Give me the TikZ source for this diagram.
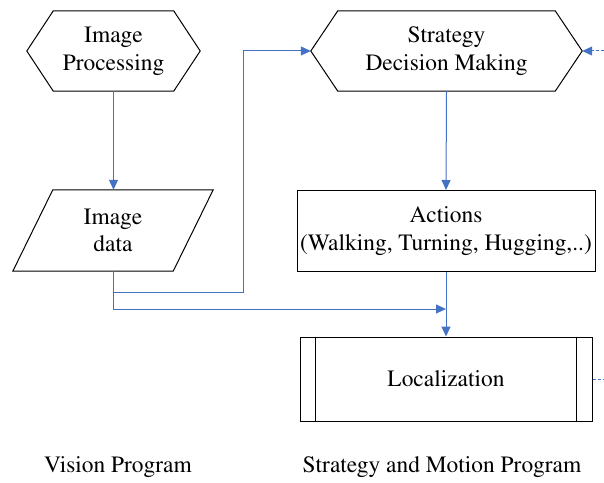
\documentclass[tikz,border=0pt]{standalone}
\usepackage[T1]{fontenc}
\usepackage{mathptmx}
\usetikzlibrary{arrows.meta,calc}

\definecolor{flowblue}{HTML}{4472C4}

\tikzset{
  x=1bp, y=-1bp,
  every node/.style={font=\rmfamily\fontsize{23.5}{28}\selectfont, align=center, inner sep=0pt},
  box/.style={draw=black, line width=1bp, minimum width=#1},
  frame/.style={draw=none, minimum width=#1},
  outline/.style={draw=black, line width=1bp, line join=miter},
  flow/.style={draw=flowblue, line width=1bp, -{Triangle[length=10bp,width=9bp]}},
  dashflow/.style={draw=flowblue, line width=1bp, dash pattern=on 3bp off 2bp},
  caption/.style={font=\rmfamily\fontsize{23.5}{28}\selectfont}
}

\begin{document}
\begin{tikzpicture}
\useasboundingbox (0,0) rectangle (604,483);

% hexagon: image processing
\node[frame=173bp, minimum height=80bp] (ip) at (113.5,51) {Image\\Processing};
\draw[outline] (ip.west) -- ([xshift=26.5bp]ip.north west) -- ([xshift=-26.5bp]ip.north east)
  -- (ip.east) -- ([xshift=-26.5bp]ip.south east) -- ([xshift=26.5bp]ip.south west) -- cycle;

% hexagon: strategy decision making
\node[frame=271bp, minimum height=80bp] (sd) at (446.5,51) {Strategy\\Decision Making};
\draw[outline] (sd.west) -- ([xshift=27bp]sd.north west) -- ([xshift=-27bp]sd.north east)
  -- (sd.east) -- ([xshift=-27bp]sd.south east) -- ([xshift=27bp]sd.south west) -- cycle;

% parallelogram: image data
\node[frame=200bp, minimum height=81bp] (data) at (113,230.5) {Image\\data};
\draw[outline] ([xshift=40bp]data.north west) -- (data.north east)
  -- ([xshift=-40bp]data.south east) -- (data.south west) -- cycle;

% process box: actions
\node[box=298bp, minimum height=81bp] (act) at (446,231) {Actions\\(Walking, Turning, Hugging,..)};

% predefined process: localization
\node[box=292bp, minimum height=84bp] (loc) at (446,379) {Localization};
\draw[outline] ([xshift=16bp]loc.north west) -- ([xshift=16bp]loc.south west);
\draw[outline] ([xshift=-16bp]loc.north east) -- ([xshift=-16bp]loc.south east);

% routing points
\coordinate (port) at (ip.south |- data.south);
\coordinate (bend) at (243,292);
\coordinate (join) at (446,309);
\coordinate (extin) at (604,51);
\coordinate (extout) at (604,379);

% connectors
\draw[flow] (ip.south) -- (ip.south |- data.north);
\draw[flow] (port) |- (bend) |- (sd.west);
\draw[flow] (port) |- (join);
\draw[flow] (sd.south) -- (act.north);
\draw[flow] (act.south) -- (loc.north);
\draw[dashflow, -{Triangle[length=10bp,width=9bp]}] (extin) -- (sd.east);
\draw[dashflow] (loc.east) -- (extout);

% captions
\node[caption] (vision) at (118,467) {Vision Program};
\node[caption] (motion) at (442,467) {Strategy and Motion Program};
\end{tikzpicture}
\end{document}
